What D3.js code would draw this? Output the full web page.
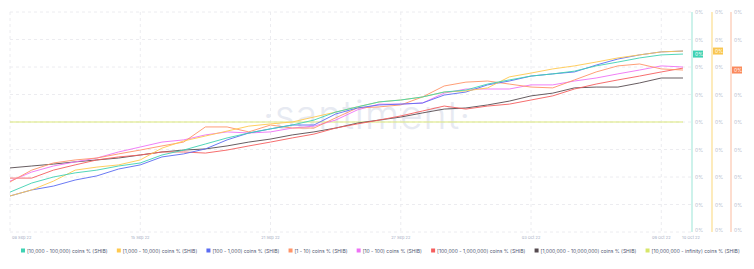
<!DOCTYPE html>
<html>
<head>
<meta charset="utf-8">
<script src="https://cdn.jsdelivr.net/npm/d3@7"></script>
<style>
  body { margin: 0; background: #fff; }
  text { font-family: Inter, "Noto Sans", sans-serif; }
</style>
</head>
<body>
<div id="chart"></div>
<script>
// tick labels along the bottom (placed at day index)
var tickIdx = [0, 6, 12, 18, 24, 30, 31];
var tickLabels = ["08 Sep 22", "15 Sep 22", "21 Sep 22", "27 Sep 22", "03 Oct 22", "09 Oct 22", "10 Oct 22"];

// series names
var names = [
  "[10,000 - 100,000) coins % (SHIB)",
  "[1,000 - 10,000) coins % (SHIB)",
  "[100 - 1,000) coins % (SHIB)",
  "[1 - 10) coins % (SHIB)",
  "[10 - 100) coins % (SHIB)",
  "[100,000 - 1,000,000) coins % (SHIB)",
  "[1,000,000 - 10,000,000) coins % (SHIB)",
  "[10,000,000 - infinity) coins % (SHIB)"
];
var colors = ["#3fd2b3", "#ffc94f", "#5b6cf2", "#ff9468", "#ee72f5", "#f55e5e", "#564b50", "#d7e66a"];

// values (relative units, axis just shows 0%)
var s10k = [14.5,17.8,20.0,21.5,22.5,24.0,25.1,28.0,29.8,32.0,34.2,36.0,37.5,38.9,40.7,43.6,45.5,47.3,48.0,49.1,50.9,51.6,53.8,55.3,56.7,57.5,58.5,60.4,61.8,63.3,64.4,64.7];
var s1k = [13.1,15.3,18.5,22.5,23.6,24.4,26.2,30.5,33.1,34.9,36.7,38.5,39.3,40.0,41.8,43.6,45.5,47.3,48.0,49.1,50.9,51.3,52.4,56.4,57.8,59.3,60.4,61.8,63.3,64.4,65.5,65.8];
var s100 = [13.1,15.3,16.7,18.9,20.4,22.9,24.4,27.3,28.4,30.2,33.5,36.0,37.5,38.9,38.9,42.9,45.1,46.2,46.5,46.9,49.8,50.9,53.5,54.9,56.7,57.5,58.2,60.7,62.9,64.4,65.5,65.8];
var s1 = [18.2,22.5,25.1,26.2,26.9,28.4,29.8,31.3,32.7,38.2,38.2,36.4,38.9,37.8,37.8,41.5,45.1,45.5,46.2,49.1,53.1,54.5,54.9,53.8,52.7,52.4,55.3,58.2,60.4,61.1,59.3,58.9];
var s10 = [18.5,21.8,24.0,25.5,26.9,29.1,30.9,32.7,33.5,35.3,36.4,36.0,36.4,37.8,38.5,40.7,44.4,46.5,46.5,46.9,50.5,52.0,52.0,52.0,53.5,53.5,54.9,56.0,57.5,58.9,60.4,60.0];
var s100k = [19.6,19.6,22.5,24.4,26.2,27.3,28.0,29.1,29.1,28.7,29.8,31.3,32.7,34.2,35.6,37.8,39.3,40.7,42.2,44.0,45.8,44.7,45.8,46.5,48.0,49.5,52.0,53.8,55.3,56.7,58.2,59.6];
var s1m = [23.3,24.0,24.7,25.5,26.2,26.9,28.0,29.1,29.8,30.2,31.3,32.7,33.8,35.3,36.4,37.8,39.6,40.7,41.8,43.3,44.7,45.1,46.2,47.6,49.5,50.5,52.4,52.7,52.7,54.2,56.0,56.0];
var s10m = [40,40,40,40,40,40,40,40,40,40,40,40,40,40,40,40,40,40,40,40,40,40,40,40,40,40,40,40,40,40,40,40];

var allSeries = [s10k, s1k, s100, s1, s10, s100k, s1m, s10m];

// y grid values (axis labels all read 0%)
var yTicks = [0, 10, 20, 30, 40, 50, 60, 70, 80];

var W = 754, H = 269;
var plotLeft = 10, plotRight = 683, axisX = 692, plotTop = 12, plotBottom = 232;

var svg = d3.select("#chart")
  .append("svg")
    .attr("width", W)
    .attr("height", H);

var x = d3.scaleLinear()
  .domain([0, s10k.length - 1])
  .range([plotLeft, plotRight]);

var y = d3.scaleLinear()
  .domain([0, 80])
  .range([plotBottom, plotTop]);

// horizontal dashed grid
svg.append("g")
  .selectAll("line")
  .data(yTicks)
  .enter()
  .append("line")
    .attr("x1", plotLeft)
    .attr("x2", axisX)
    .attr("y1", d => y(d))
    .attr("y2", d => y(d))
    .attr("stroke", "#ececf0")
    .attr("stroke-dasharray", "3,3");

// vertical dashed grid
svg.append("g")
  .selectAll("line")
  .data(tickIdx.slice(0, 6))
  .enter()
  .append("line")
    .attr("x1", d => x(d))
    .attr("x2", d => x(d))
    .attr("y1", plotTop)
    .attr("y2", plotBottom)
    .attr("stroke", "#ececf0")
    .attr("stroke-dasharray", "3,3");

// watermark
svg.append("text")
  .attr("x", 367)
  .attr("y", 129)
  .attr("text-anchor", "middle")
  .style("font-size", "39px")
  .style("font-weight", "300")
  .style("fill", "#e7eaf2")
  .style("letter-spacing", "1px")
  .text("\u00b7santiment\u00b7");

// date labels
var last = tickIdx.length - 1;
svg.append("g")
  .selectAll("text")
  .data(tickIdx)
  .enter()
  .append("text")
    .attr("x", (d, i) => i == 0 ? x(d) + 2 : (i == last ? x(d) + 8 : x(d)))
    .attr("y", 238.5)
    .attr("text-anchor", (d, i) => i == 0 ? "start" : "middle")
    .style("font-size", "4px")
    .style("fill", "#a3abc2")
    .text((d, i) => tickLabels[i]);

// lines
var line = d3.line()
  .x((d, i) => x(i))
  .y(d => y(d));

svg.append("g")
  .selectAll("path")
  .data(allSeries.map((s, i) => ({vals: s, color: colors[i]})).reverse())
  .enter()
  .append("path")
    .attr("d", d => line(d.vals))
    .attr("fill", "none")
    .attr("stroke", d => d.color)
    .attr("stroke-width", 1)
    .attr("stroke-opacity", 0.9);

// right side axes (teal, gold, orange) with 0% labels
var axes = [
  {pos: 692, color: "#bdeee4", badge: "#3fd2b3", series: s10k},
  {pos: 712, color: "#fde4a6", badge: "#f9c650", series: s1k},
  {pos: 731, color: "#fdd2bf", badge: "#fb8a5d", series: s1}
];

axes.forEach(function (a) {
  var lastVal = a.series[a.series.length - 1];
  var by = y(lastVal);

  svg.append("line")
    .attr("x1", a.pos).attr("x2", a.pos)
    .attr("y1", plotTop).attr("y2", plotBottom)
    .attr("stroke", a.color)
    .attr("stroke-width", 1.5);

  // tick labels, skipping any hidden behind the value badge
  svg.append("g")
    .selectAll("text")
    .data(yTicks.filter(d => Math.abs(y(d) - by) > 6))
    .enter()
    .append("text")
      .attr("x", a.pos + 3)
      .attr("y", d => y(d) + (d == 0 ? 0 : 2))
      .style("font-size", "5px")
      .style("fill", "#b4bacb")
      .text("0%");

  svg.append("rect")
    .attr("x", a.pos + 1)
    .attr("y", by - 3.5)
    .attr("width", 10)
    .attr("height", 7)
    .attr("fill", a.badge);
  svg.append("text")
    .attr("x", a.pos + 3)
    .attr("y", by + 1.8)
    .style("font-size", "5px")
    .style("fill", "#fff")
    .text("0%");
});

// legend, laid out by measured widths, font scaled to fit the row
var legend = svg.append("g");
var items = [];
var baseSize = 6;
names.forEach(function (n, i) {
  var g = legend.append("g");
  g.append("rect")
    .attr("x", 0).attr("y", -2.5)
    .attr("width", 4).attr("height", 4)
    .attr("fill", colors[i]);
  var t = g.append("text")
    .attr("x", 6)
    .attr("y", 2)
    .style("font-size", baseSize + "px")
    .style("fill", "#4f5670")
    .text(n);
  items.push({g: g, t: t, tw: t.node().getComputedTextLength()});
});
var gap = 9;
var textTotal = d3.sum(items, d => d.tw);
var k = (719 - gap * 7 - 6 * 8) / textTotal;
var lx = 21;
items.forEach(function (it) {
  it.t.style("font-size", (baseSize * k) + "px");
  it.g.attr("transform", "translate(" + lx + ",251)");
  lx += 6 + it.tw * k + gap;
});
</script>
</body>
</html>
